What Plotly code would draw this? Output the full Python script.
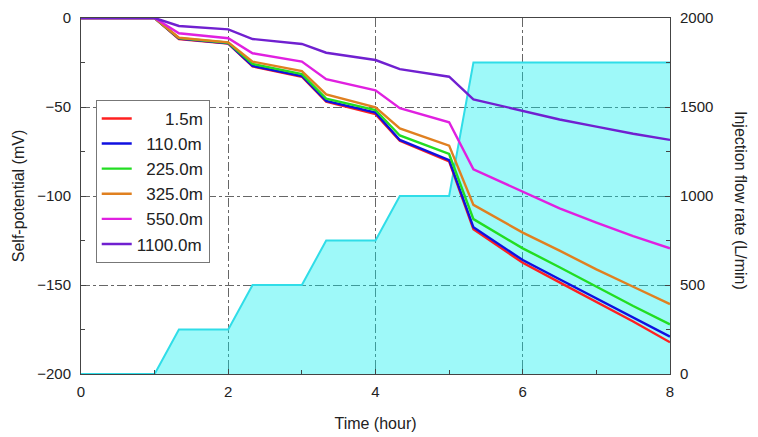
import plotly.graph_objects as go

# Injection flow rate (L/min)
flow_t = [0, 1, 1.33, 2, 2.33, 3, 3.33, 4, 4.33, 5, 5.33, 8]
flow_q = [0, 0, 250, 250, 500, 500, 750, 750, 1000, 1000, 1750, 1750]

# Self-potential (mV)
sp_t = [0, 1, 1.33, 2, 2.33, 3, 3.33, 4, 4.33, 5, 5.33, 6, 6.5, 7, 7.5, 8]
sp_1p5 = [0, 0, -11.8, -14.4, -27.2, -33.0, -47.0, -54.0, -69.0, -80.5, -118.7, -137.5, -148.5, -159.4, -170.5, -182.2]
sp_110 = [0, 0, -11.6, -14.2, -26.9, -32.6, -46.6, -53.2, -68.5, -79.8, -117.6, -136.0, -146.8, -157.5, -168.4, -179.0]
sp_225 = [0, 0, -11.3, -13.9, -25.8, -31.5, -45.3, -51.7, -66.0, -76.4, -113.0, -129.4, -140.0, -151.0, -161.8, -172.1]
sp_325 = [0, 0, -11.1, -13.7, -24.5, -29.8, -42.9, -50.2, -62.0, -71.7, -105.0, -120.6, -130.7, -141.2, -151.0, -160.7]
sp_550 = [0, 0, -8.6, -11.4, -19.8, -24.5, -34.4, -40.6, -50.7, -58.6, -85.0, -97.5, -107.0, -115.0, -122.5, -129.4]
sp_1100 = [0, 0, -4.5, -6.4, -11.8, -14.6, -19.5, -23.6, -28.7, -33.0, -45.7, -52.2, -57.0, -61.0, -65.0, -68.5]

labels = ["\u2007\u2007\u20071.5m", "\u2007110.0m", "\u2007225.0m", "\u2007325.0m", "\u2007550.0m", "1100.0m"]
series = [sp_1p5, sp_110, sp_225, sp_325, sp_550, sp_1100]
colors = ["#ff2020", "#1010e0", "#22dd22", "#e08020", "#e020e0", "#7020d0"]

FONT = "Liberation Sans Narrow, Liberation Sans, Arial, sans-serif"

fig = go.Figure()
fig.add_trace(go.Scatter(
    x=flow_t, y=flow_q, mode="lines", fill="tozeroy",
    fillcolor="rgba(0,240,240,0.38)", line=dict(color="#30dde8", width=2),
    showlegend=False, xaxis="x", yaxis="y"))

for name, ys, c in zip(labels, series, colors):
    fig.add_trace(go.Scatter(
        x=sp_t, y=ys, mode="lines", name=name,
        line=dict(color=c, width=2.4), xaxis="x", yaxis="y2"))

grid = dict(gridcolor="#666666", griddash="dashdot", gridwidth=1)
fig.update_layout(
    width=758, height=437,
    margin=dict(l=81, r=88, t=18, b=63),
    plot_bgcolor="white", paper_bgcolor="white",
    font=dict(family=FONT, size=15, color="#222"),
    xaxis=dict(range=[0, 8], dtick=2, showline=True, mirror=True, linecolor="#444",
               ticks="inside", ticklen=5, tickcolor="#444", automargin=False,
               minor=dict(dtick=1, ticks="inside", ticklen=4, tickcolor="#444", showgrid=False),
               zeroline=False, showgrid=True, ticklabelstandoff=4,
               title=dict(text="Time (hour)", font=dict(size=16), standoff=18), **grid),
    yaxis=dict(range=[0, 2000], dtick=500, side="right", showline=True, linecolor="#444",
               ticks="inside", ticklen=5, tickcolor="#444", automargin=False,
               minor=dict(dtick=250, ticks="inside", ticklen=4, tickcolor="#444", showgrid=False),
               zeroline=False, showgrid=True, ticklabelstandoff=6, **grid),
    yaxis2=dict(range=[-200, 0], dtick=50, side="left", overlaying="y", showline=True,
                linecolor="#444", ticks="inside", ticklen=5, tickcolor="#444", automargin=False,
                minor=dict(dtick=25, ticks="inside", ticklen=4, tickcolor="#444", showgrid=False),
                zeroline=False, showgrid=False, ticklabelstandoff=6,
                title=dict(text="Self-potential (mV)", font=dict(size=16), standoff=8)),
    legend=dict(x=0.025, y=0.77, xanchor="left", yanchor="top",
                bordercolor="#777", borderwidth=1, bgcolor="white",
                font=dict(size=17, family=FONT), tracegroupgap=0, itemwidth=30),
    annotations=[dict(text="Injection flow rate (L/min)", textangle=90,
                      x=(741 - 81) / 589, y=(374 - 200) / 356, xref="paper", yref="paper",
                      xanchor="center", yanchor="middle", showarrow=False,
                      font=dict(size=16, family=FONT))],
)
fig.write_html("out.html")
